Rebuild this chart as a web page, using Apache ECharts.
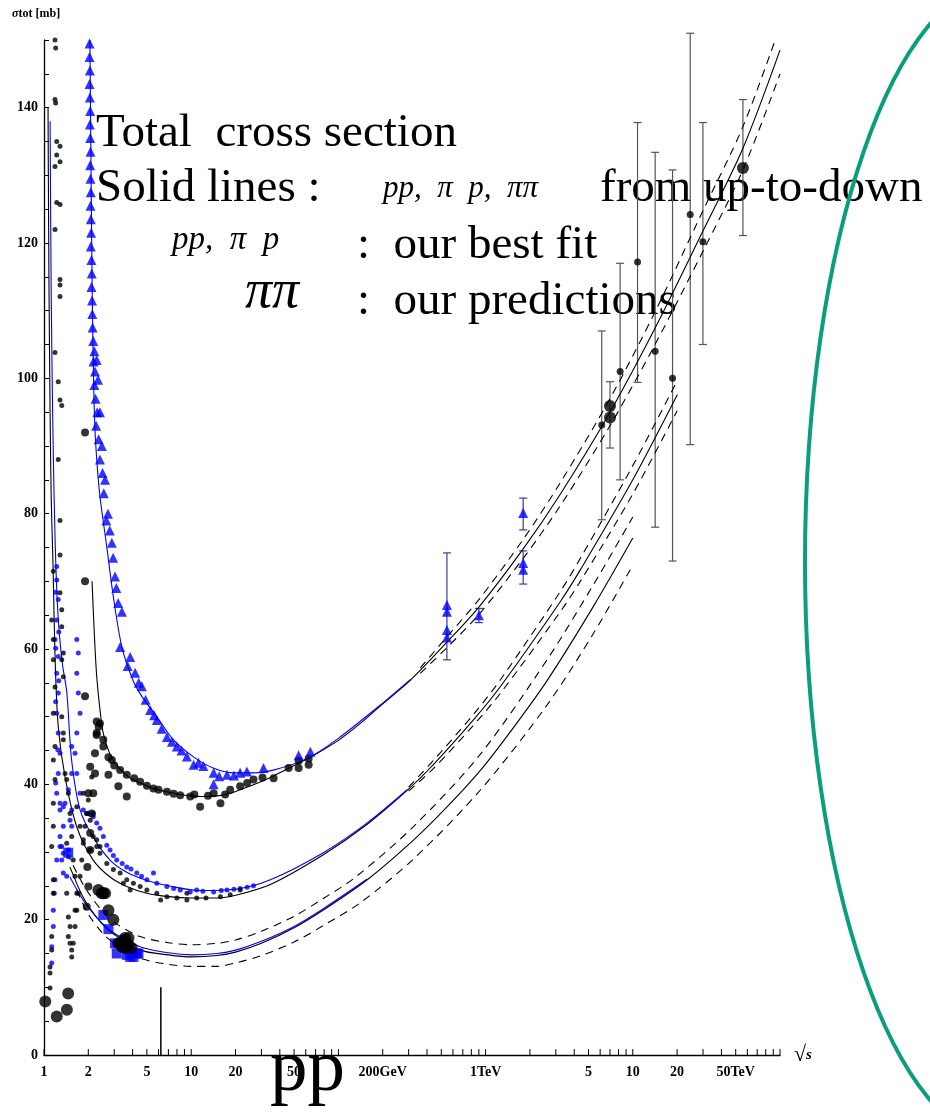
<!DOCTYPE html>
<html>
<head>
<meta charset="utf-8">
<script src="https://cdn.jsdelivr.net/npm/echarts@6/dist/echarts.min.js"></script>
<style>
  html, body { margin: 0; padding: 0; background: #fff; }
  #main { width: 930px; height: 1113px; }
</style>
</head>
<body>
<div id="main"></div>
<script>
// sqrt(s) in GeV, sigma_tot in mb

// x axis ticks and labels
var xTicks = [1, 2, 3, 4, 5, 6, 7, 8, 9, 10, 20, 30, 40, 50, 60, 70, 80, 90, 100, 200, 300, 400, 500, 600, 700, 800, 900,
  1000, 2000, 3000, 4000, 5000, 6000, 7000, 8000, 9000, 10000, 20000, 30000, 40000, 50000, 60000, 70000, 80000, 90000, 100000]
var xLabelVals = [1, 2, 5, 10, 20, 50, 200, 1000, 5000, 10000, 20000, 50000]
var xLabelText = ['1', '2', '5', '10', '20', '50', '200GeV', '1TeV', '5', '10', '20', '50TeV']

// pi- p data (blue small dots)
var pimpDots = [
  [1.128, 13.6], [1.128, 16.0], [1.157, 19.0], [1.157, 21.4], [1.175, 23.9], [1.188, 25.9], [1.22, 28.8], [1.285, 30.8],
  [1.353, 33.8], [1.285, 36.2], [1.22, 38.7], [1.25, 41.6], [1.285, 44.6], [1.25, 47.6], [1.22, 50.5], [1.25, 53.5],
  [1.22, 56.4], [1.25, 58.9], [1.188, 61.4], [1.22, 64.3], [1.25, 67.3], [1.22, 70.2], [1.22, 72.2], [1.2, 40.2],
  [1.24, 45.1], [1.2, 52.2], [1.26, 55.3], [1.2, 60.1], [1.26, 62.5], [1.2, 68.4],
  [1.464, 30.3], [1.543, 33.8], [1.543, 36.2], [1.464, 39.2], [1.543, 41.6], [1.625, 44.6], [1.543, 45.6], [1.67, 47.6],
  [1.758, 50.5], [1.71, 53.5], [1.67, 56.4], [1.71, 59.4], [1.67, 61.4], [1.67, 41.6], [1.758, 38.7], [1.85, 36.2],
  [2.0, 35.7], [2.16, 35.7], [1.39, 37.2], [1.32, 30.8], [1.32, 28.8], [1.353, 26.9], [1.285, 37.2], [1.353, 36.7],
  [1.503, 34.7], [1.285, 32.3], [1.353, 29.8], [1.464, 29.3], [1.427, 26.4], [1.95, 35.7], [2.16, 35.2], [2.28, 34.3],
  [2.4, 33.5], [2.53, 32.3], [2.67, 31.0], [2.81, 30.3], [2.96, 29.5], [3.12, 28.8], [3.4, 28.3], [3.65, 27.8],
  [3.9, 27.5], [4.27, 26.9], [4.6, 26.4], [5.0, 25.9], [5.54, 26.9], [5.84, 25.4], [6.84, 24.9], [7.6, 24.6],
  [8.42, 24.4], [9.85, 24.1], [10.9, 24.4], [12.0, 24.2], [14.2, 24.1], [16.0, 24.3], [17.5, 24.4], [19.5, 24.5],
  [21.5, 24.6], [24.0, 24.8], [26.5, 25.0]
]

// pi+ p data (black small dots)
var pippDots = [
  [1.099, 9.9], [1.099, 12.1], [1.099, 13.0], [1.128, 15.5], [1.128, 17.5], [1.157, 23.9], [1.157, 25.9], [1.128, 30.8],
  [1.157, 33.8], [1.157, 37.2], [1.188, 40.7], [1.157, 43.6], [1.188, 45.6], [1.157, 50.5], [1.188, 54.4], [1.157, 58.4],
  [1.157, 61.4], [1.128, 64.3], [1.157, 71.5],
  [1.188, 150], [1.2, 148.8], [1.188, 141.2], [1.2, 140.7], [1.22, 135], [1.285, 134.3], [1.22, 133], [1.285, 132],
  [1.188, 131.3], [1.22, 126], [1.285, 125.7], [1.188, 122], [1.285, 114.6], [1.285, 113.8], [1.285, 112.1],
  [1.188, 103.8], [1.25, 99.5], [1.285, 96.8], [1.32, 96], [1.25, 88], [1.285, 79], [1.285, 73.9],
  [1.285, 68.3], [1.32, 65.8], [1.32, 63.3], [1.353, 59.4], [1.32, 58.4], [1.353, 55.9], [1.32, 50], [1.353, 47.6],
  [1.353, 46.6], [1.39, 41.6], [1.427, 40.7], [1.464, 38.7], [1.503, 35.7], [1.543, 32.3], [1.427, 31.3], [1.58, 28.8],
  [1.625, 26.4], [1.67, 23.9], [1.625, 21.4], [1.427, 23.9], [1.464, 20.4], [1.503, 19], [1.503, 16.5], [1.543, 14.5],
  [1.464, 17.5], [1.543, 15.5], [1.58, 16.5], [1.625, 19], [1.67, 21.4], [1.71, 23.9], [1.758, 26.4], [1.805, 28.8],
  [1.85, 31.3], [1.9, 33.8], [1.95, 35.7], [2.0, 37.7], [1.85, 38.7], [2.11, 41.1], [2.06, 34.7], [2.16, 32.3],
  [1.67, 36.7], [1.758, 33.8], [1.85, 31.8], [2.06, 30.3], [2.28, 30.8], [2.28, 31.8], [2.4, 29.8], [2.4, 30.8],
  [2.67, 28.3], [2.96, 27.4], [3.29, 26.9], [3.46, 25.4], [3.65, 25.9], [3.85, 24.4], [4.05, 25.4], [4.5, 24.9],
  [5.0, 24.4], [5.84, 23.9], [6.2, 22.9], [6.84, 23.4], [7.99, 23.2], [9.35, 22.9], [9.35, 23.9], [10.9, 23.2],
  [12.6, 23.2], [15.8, 23.4], [18.4, 23.7], [21.5, 24.4]
]

// pp data, low energy (black dots)
var ppDots = [
  [1.9, 92], [1.9, 70], [1.9, 53],
  [1.95, 21.9], [2.0, 24.9], [1.97, 27.8], [2.06, 30.3], [2.06, 32.8], [2.11, 35.7], [2.16, 38.7], [2.22, 41.6],
  [2.22, 44.6], [2.06, 42.6], [2.0, 38.7], [2.28, 47.6], [2.4, 49.0], [2.53, 46.6], [2.28, 49.3], [2.35, 48.5],
  [2.28, 47.3], [2.53, 45.6], [2.74, 44.0], [2.89, 43.6], [3.0, 42.8], [3.29, 42.1], [3.65, 41.4], [2.74, 41.4],
  [3.2, 39.7], [3.65, 38.2], [4.5, 40.4], [4.1, 40.9], [5.0, 39.8], [5.54, 39.4], [6.0, 39.2], [6.84, 38.9],
  [7.6, 38.6], [8.42, 38.4], [9.85, 38.2], [10.5, 38.5], [11.5, 36.7], [13, 38.3], [14.2, 38.7], [15.8, 37.2],
  [17, 38.5], [18.4, 39.2], [21.5, 39.7], [24, 40.2], [26.5, 40.7], [30.5, 41], [36.3, 40.9], [45.9, 42.4],
  [53.7, 42.4], [53.7, 43.5], [62.8, 42.9], [62.8, 43.8]
]

// pp data, high energy (collider + cosmic rays) with errors
var ppHigh = [[6150, 93.1], [8200, 101], [10770, 117.2], [14190, 104], [18620, 100], [24550, 124.2], [29940, 120.2]]
var ppHighBig = [[7000, 95.9], [7000, 94.2], [56000, 131.1]]
var ppErr = [
  [6150, 79.1, 107], [7000, 89.7, 99.5], [8200, 85, 117], [10770, 99.4, 137.8], [14190, 78, 133.4],
  [18620, 73, 130.8], [24550, 90.2, 151], [29940, 105, 137.8], [56000, 121.1, 141.2]
]

// pbar p data (blue triangles)
var pbarpTri = [
  [2.04, 149.5], [2.04, 147.5], [2.05, 145.5], [2.04, 143.5], [2.05, 141.5], [2.06, 139.5], [2.05, 137.5], [2.06, 135.5],
  [2.07, 133.5], [2.06, 131.5], [2.07, 129.5], [2.08, 127.5], [2.07, 125.5], [2.08, 123.5], [2.09, 121.5], [2.08, 119.5],
  [2.1, 117.5], [2.11, 115.5], [2.1, 113.5], [2.12, 111.5], [2.13, 109.5], [2.14, 107.5], [2.16, 105.5], [2.2, 104],
  [2.17, 102.5], [2.22, 101], [2.2, 99], [2.28, 102.7], [2.24, 97], [2.3, 95], [2.33, 99.8], [2.26, 93], [2.4, 95],
  [2.35, 91], [2.47, 90], [2.4, 88], [2.5, 86], [2.6, 85], [2.55, 83], [2.72, 80], [2.65, 79], [2.8, 77.5],
  [2.89, 75.7], [2.95, 73.5], [3.04, 70.7], [3.1, 69], [3.19, 66.8], [3.38, 65.5], [3.29, 60.3], [3.85, 58.8],
  [3.7, 57.5], [4.16, 56.5], [4.4, 55], [4.62, 54.5], [4.9, 52.5], [5.26, 51], [5.6, 50.2], [5.84, 49.5], [6.3, 48.2],
  [6.84, 47], [7.4, 46.3], [7.99, 45.6], [8.6, 45], [9.35, 44.1], [10.4, 42.9], [11.2, 43.2], [12.1, 42.7], [14.2, 41.7],
  [14.2, 40], [15.5, 41.2], [17.5, 41.4], [19.5, 41.3], [21.5, 41.7], [23.9, 41.9], [31, 42.4], [53.7, 44.3], [64.5, 44.8],
  [546, 66.5], [546, 65.5], [546, 62.8], [546, 61.7], [900, 65], [1800, 80.1], [1800, 72.7], [1800, 71.7]
]
var pbarpErr = [[546, 58.4, 74.2], [900, 63.9, 66], [1800, 77.6, 82.3], [1800, 69.6, 74.5]]

// pi pi data (black big dots and blue squares)
var pipiDots = [
  [1.02, 7.9], [1.22, 5.7], [1.43, 6.7], [1.46, 9.1],
  [2.34, 24.4], [2.47, 23.9], [2.53, 23.9], [2.6, 23.9], [2.74, 21.4], [2.96, 20.0], [3.2, 16.5], [3.29, 16.5],
  [3.38, 16], [3.46, 17], [3.55, 17.3], [3.75, 17.3], [3.75, 16.3], [3.95, 15.8], [3.55, 15.8]
]
var pipiSq = [[1.46, 29.9], [2.53, 20.7], [2.74, 18.6], [3.04, 16.5], [3.12, 15], [3.65, 14.8], [3.85, 14.5], [4.05, 14.5], [4.27, 15], [4.38, 15]]

// fitted curves
var ppFit = [
  [2.12, 70], [2.2, 62], [2.28, 56], [2.4, 51], [2.53, 47.5], [2.8, 44.5], [3.2, 42.5], [3.8, 41], [4.5, 40.2], [5.5, 39.4],
  [6.8, 38.9], [8.4, 38.5], [10, 38.3], [12, 38.2], [15, 38.3], [18, 38.6], [21.5, 39.2], [27, 40], [36, 41.2], [50, 42.8],
  [64.5, 44], [100, 46.5], [141, 49], [193, 51.6], [309, 55.4], [546, 61], [900, 66.2], [1800, 74.8], [3200, 82.8],
  [7000, 95], [14000, 107.2], [30000, 121.8], [56000, 134], [100000, 148.5]
]
var ppUp = [[360, 57.2], [546, 61.8], [900, 67.3], [1800, 76.2], [3200, 84.5], [7000, 97], [14000, 109.6], [30000, 124.8], [56000, 137.2], [100000, 152]]
var ppLow = [[360, 56.4], [546, 60.2], [900, 65.1], [1800, 73.4], [3200, 81.1], [7000, 93], [14000, 104.8], [30000, 118.8], [56000, 130.8], [100000, 145]]
var pbarpFit = [
  [2.05, 150], [2.08, 135], [2.12, 115], [2.17, 100], [2.22, 92.4], [2.3, 87], [2.4, 82.5], [2.67, 75.1], [2.96, 67.7],
  [3.38, 60.3], [4.0, 55.5], [4.62, 53], [5.84, 50], [7.55, 46.6], [10.3, 44.1], [14.1, 42.4], [19.3, 41.7], [26.3, 41.7],
  [36.1, 42.1], [61, 43.8], [100, 46.8], [200, 52], [309, 55.5]
]
var pipFit = [
  [1.065, 140], [1.08, 115], [1.1, 95], [1.12, 82], [1.15, 73], [1.19, 58.4], [1.25, 48.5], [1.39, 41.1], [1.67, 33.7],
  [2.16, 28.8], [2.81, 26.3], [3.65, 24.9], [5, 23.9], [7, 23.4], [10, 23.2], [15, 23.2], [20, 23.6], [34.5, 25.2],
  [79, 29.6], [157, 34.1], [293, 39.1], [445, 43], [832, 49.6], [1265, 54.5], [3240, 67.1], [4430, 71.8],
  [10000, 85], [20100, 97.6]
]
var pimFit = [
  [1.1, 138], [1.12, 112], [1.15, 92], [1.19, 76], [1.245, 65], [1.33, 58], [1.43, 53.5], [1.54, 43.6], [1.76, 36.2],
  [2.16, 32.2], [2.81, 28.8], [3.65, 27], [5, 25.8], [7, 25], [11.5, 24.3], [20, 24.5], [34.5, 25.9], [79, 29.9],
  [157, 34.3], [293, 39.2]
]
var piUp = [[300, 39.6], [445, 43.6], [832, 50.4], [1265, 55.5], [3240, 68.6], [4430, 73.5], [10000, 87.1], [20000, 99.6]]
var piLow = [[300, 39.0], [445, 42.4], [832, 48.8], [1265, 53.5], [3240, 65.6], [4430, 70.1], [10000, 82.9], [20000, 95.2]]
var pipiFit = [
  [1.5, 27.8], [1.76, 24.2], [2.0, 22], [2.5, 19.3], [3, 17.8], [4.5, 15.5], [7, 14.8], [10, 14.5], [15, 14.7], [20, 15.2],
  [30, 16.5], [50, 18.8], [80, 21.5], [157, 25.9], [325, 31.8], [549, 36.7], [925, 42.1], [1560, 48.5], [2630, 55.4],
  [5400, 66.3], [10000, 76.4]
]
var pipiBlue = [
  [1.5, 26.3], [1.76, 23.6], [2.0, 21.8], [2.5, 19.4], [3, 18], [4.5, 16], [7, 15.1], [10, 14.8], [15, 15], [20, 15.5],
  [30, 16.8], [50, 19], [80, 21.7], [157, 26]
]
var pipiUp = [
  [1.43, 29.9], [1.76, 26], [2.0, 24], [2.5, 21.2], [3, 19.6], [4.5, 17.5], [7, 16.6], [10, 16.3], [15, 16.5], [20, 17],
  [30, 18.3], [50, 20.5], [80, 23.2], [131, 26.3], [325, 33.8], [925, 44.5], [2630, 58.5], [5400, 69.5], [10000, 79.5]
]
var pipiLow = [
  [1.67, 24.4], [2.0, 20.8], [2.5, 18], [3, 16.5], [4.5, 14.3], [7, 13.4], [10, 13.1], [15, 13.1], [20, 13.6], [30, 14.7],
  [50, 16.7], [80, 19.2], [141, 22.5], [325, 29], [925, 39.2], [2630, 51.8], [5400, 62.3], [10000, 72.4]
]
var thresholdLine = [[6.22, 0], [6.22, 10]]

var serif = '"Liberation Serif", "Times New Roman", serif'
var chart = echarts.init(document.getElementById('main'))

function curve(data, color, dashed) {
  return {
    type: 'line', data: data, showSymbol: false, smooth: 0.3, silent: true, z: 2,
    lineStyle: { color: color, width: 1.1, type: dashed ? [8, 6] : 'solid' }
  }
}
function dots(data, symbol, size, color, z) {
  return { type: 'scatter', data: data, symbol: symbol, symbolSize: size, itemStyle: { color: color }, silent: true, z: z || 3 }
}
function errBars(data, color) {
  return {
    type: 'custom', data: data, silent: true, z: 2,
    renderItem: function(params, api) {
      var a = api.coord([api.value(0), api.value(1)])
      var b = api.coord([api.value(0), api.value(2)])
      var st = { stroke: color, lineWidth: 1.2 }
      return {
        type: 'group',
        children: [
          { type: 'line', shape: { x1: a[0], y1: a[1], x2: b[0], y2: b[1] }, style: st },
          { type: 'line', shape: { x1: a[0] - 4, y1: a[1], x2: a[0] + 4, y2: a[1] }, style: st },
          { type: 'line', shape: { x1: b[0] - 4, y1: b[1], x2: b[0] + 4, y2: b[1] }, style: st }
        ]
      }
    }
  }
}

var option = {
  animation: false,
  backgroundColor: '#fff',
  grid: { left: 44, right: 150, top: 40, bottom: 58 },
  xAxis: {
    type: 'log', logBase: 10, min: 1, max: 100000,
    axisLine: { lineStyle: { color: '#000', width: 1.3 } },
    axisTick: { show: false }, axisLabel: { show: false }, splitLine: { show: false }, minorTick: { show: false }
  },
  yAxis: {
    type: 'value', min: 0, max: 150, interval: 10,
    axisLine: { show: true, lineStyle: { color: '#000', width: 1.3 } },
    axisTick: { show: true, inside: true, length: 5, lineStyle: { color: '#000' } },
    minorTick: { show: true, splitNumber: 2, length: 5, lineStyle: { color: '#000' } },
    splitLine: { show: false },
    axisLabel: {
      color: '#000', fontFamily: serif, fontWeight: 'bold', fontSize: 14, margin: 6,
      formatter: function(v) { return (v % 20 === 0 && v <= 140) ? String(v) : '' }
    }
  },
  series: [
    // x axis ticks
    {
      type: 'custom', data: xTicks.map(function(v) { return [v, 0] }), silent: true, clip: false, z: 4,
      renderItem: function(params, api) {
        var p = api.coord([api.value(0), 0])
        return { type: 'line', shape: { x1: p[0], y1: p[1], x2: p[0], y2: p[1] - 6 }, style: { stroke: '#000', lineWidth: 1 } }
      }
    },
    // x axis labels
    {
      type: 'custom', data: xLabelVals.map(function(v) { return [v, 0] }), silent: true, clip: false, z: 4,
      renderItem: function(params, api) {
        var p = api.coord([api.value(0), 0])
        return {
          type: 'text', x: p[0], y: p[1] + 17,
          style: { text: xLabelText[params.dataIndex], font: 'bold 14px ' + serif, fill: '#000', align: 'center', verticalAlign: 'middle' }
        }
      }
    },
    curve(pipiUp, '#000', true),
    curve(pipiLow, '#000', true),
    curve(pipiFit, '#000', false),
    curve(pipiBlue, '#0000ff', false),
    curve(piUp, '#000', true),
    curve(piLow, '#000', true),
    curve(pipFit, '#000', false),
    curve(pimFit, '#0000ff', false),
    curve(ppUp, '#000', true),
    curve(ppLow, '#000', true),
    curve(ppFit, '#000', false),
    curve(pbarpFit, '#0000ff', false),
    {
      type: 'line', data: thresholdLine, showSymbol: false, silent: true, z: 2,
      lineStyle: { color: '#000', width: 1.5 }
    },
    errBars(ppErr, '#555'),
    errBars(pbarpErr, '#3a3a99'),
    dots(pimpDots, 'circle', 5, '#0000ff'),
    dots(pippDots, 'circle', 5, '#000'),
    dots(ppDots, 'circle', 8, '#000'),
    dots(pbarpTri, 'triangle', 10, '#0000ff'),
    dots(pipiSq, 'rect', 10, '#0000ff', 4),
    dots(pipiDots, 'circle', 12, '#000', 4),
    dots(ppHigh, 'circle', 7, '#000'),
    dots(ppHighBig, 'circle', 12, '#000')
  ],
  graphic: [
    {
      type: 'ellipse', shape: { cx: 1005, cy: 562, rx: 200, ry: 580 },
      style: { fill: 'none', stroke: '#0a9e7d', lineWidth: 4 }, silent: true, z: 1
    },
    {
      type: 'text', left: 12, top: 8,
      style: { text: '{s|σ}tot [mb]', font: 'bold 12px ' + serif, fill: '#000',
        rich: { s: { font: 'italic bold 12px ' + serif, fill: '#000' } } }
    },
    { type: 'text', x: 96, y: 110, style: { text: 'Total  cross section', font: '47px ' + serif, fill: '#000' } },
    { type: 'text', x: 96, y: 165, style: { text: 'Solid lines :', font: '47px ' + serif, fill: '#000' } },
    { type: 'text', x: 383, y: 173, style: { text: 'pp,  π  p,  ππ', font: 'italic 31px ' + serif, fill: '#000' } },
    { type: 'text', x: 600, y: 165, style: { text: 'from up-to-down', font: '47px ' + serif, fill: '#000' } },
    { type: 'text', x: 172, y: 224, style: { text: 'pp,  π  p', font: 'italic 33px ' + serif, fill: '#000' } },
    { type: 'text', x: 357, y: 222, style: { text: ':  our best fit', font: '47px ' + serif, fill: '#000' } },
    { type: 'text', x: 245, y: 266, style: { text: 'ππ', font: 'italic 54px ' + serif, fill: '#000' } },
    { type: 'text', x: 357, y: 278, style: { text: ':  our predictions', font: '47px ' + serif, fill: '#000' } },
    { type: 'text', x: 270, y: 1033, style: { text: 'pp', font: '75px ' + serif, fill: '#000' } },
    {
      type: 'text', x: 794, y: 1044,
      style: { text: '√{s|s}', font: '22px ' + serif, fill: '#000',
        rich: { s: { font: 'italic bold 15px ' + serif, fill: '#000' } } }
    }
  ]
}
chart.setOption(option)
</script>
</body>
</html>
